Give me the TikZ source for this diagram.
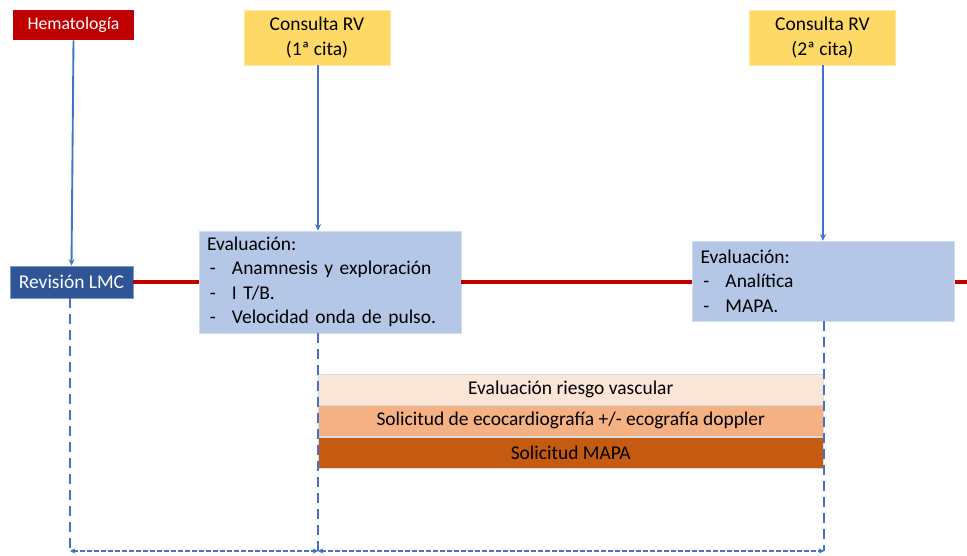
\documentclass[tikz,border=0pt]{standalone}
\usepackage{fontspec}
\setmainfont{Carlito}
\usetikzlibrary{arrows.meta,calc}
\definecolor{hemared}{HTML}{C00000}
\definecolor{rvyellow}{HTML}{FFD966}
\definecolor{lmcblue}{HTML}{2F5597}
\definecolor{evalblue}{HTML}{B4C7E7}
\definecolor{linkblue}{HTML}{4472C4}
\definecolor{riskA}{HTML}{FBE5D6}
\definecolor{riskB}{HTML}{F4B183}
\definecolor{riskC}{HTML}{C55A11}
\newcommand{\itm}{\makebox[18.75pt][l]{\hspace{2.2pt}-}} % dash of a list line

\begin{document}
\begin{tikzpicture}[x=0.75pt,y=-0.75pt,
  font=\fontsize{14.6}{18.4}\selectfont,
  tag/.style={inner sep=0pt,align=center},
  hemabox/.style={tag,fill=hemared,text=white,minimum width=90.75pt,minimum height=22.5pt,
    font=\fontsize{13.3}{16}\selectfont},
  citabox/.style={tag,fill=rvyellow,draw=rvyellow!60,minimum width=109.5pt,minimum height=41.25pt},
  lmcbox/.style={tag,fill=lmcblue,draw=lmcblue!60,text=white,minimum width=92.25pt,minimum height=24pt},
  evalbox/.style={fill=evalblue,draw=evalblue!60,align=left,inner xsep=6pt,inner ysep=0pt,
    text width=184.5pt},
  barbox/.style={tag,draw=white!85!black,minimum width=378.75pt,minimum height=23.25pt},
  link/.style={linkblue,line width=1.4pt,-{Stealth[length=5pt,width=4.5pt]}},
  span/.style={linkblue,line width=1.5pt,dash pattern=on 3.75pt off 1.5pt,
    {Stealth[length=4pt,width=4pt]}-{Stealth[length=4pt,width=4pt]}},
  guide/.style={linkblue,line width=1.5pt,dash pattern=on 7.5pt off 4.5pt}]

\useasboundingbox (0,0) rectangle (967,556);

\def\yb{551} % level of the bottom spans

% top row
\node[hemabox] (hema) at (73.5,25) {Hematología};
\node[citabox] (rv1) at (317,37.5) {Consulta RV\\(1ª cita)};
\node[citabox] (rv2) at (822.5,37.5) {Consulta RV\\(2ª cita)};

% time line
\node[lmcbox] (lmc) at (71.5,282) {Revisión LMC};
\node[evalbox,minimum height=76.5pt] (eval1) at (330,282)
  {Evaluación:\\\itm Anamnesis y exploración\\\itm I T/B.\\\itm Velocidad onda de pulso.};
\node[evalbox,minimum height=60pt] (eval2) at (823.5,281)
  {Evaluación:\\\itm Analítica\\\itm MAPA.};
\coordinate (tend) at (967,282);

\draw[hemared,line width=2.4pt] (lmc.east) -- (lmc.east -| eval1.west);
\draw[hemared,line width=2.4pt] (lmc.east -| eval1.east) -- (lmc.east -| eval2.west);
\draw[hemared,line width=2.4pt] (lmc.east -| eval2.east) -- (tend);

% arrows into the time line
\coordinate (a1) at (318,0);
\coordinate (a2) at (823,0);
\draw[link] (hema.south) -- (lmc.north);
\draw[link] (rv1.south -| a1) -- (eval1.north -| a1);
\draw[link] (rv2.south -| a2) -- (eval2.north -| a2);

% tasks between the two visits
\node[barbox,fill=riskA,anchor=north west] (risk) at (318,373.5) {Evaluación riesgo vascular};
\node[barbox,fill=riskB,anchor=north] (eco) at (risk.south) {Solicitud de ecocardiografía +/- ecografía doppler};
\node[barbox,fill=riskC,anchor=north] (mapa) at (eco.south) {Solicitud MAPA};

% bottom spans
\coordinate (b1) at (70,\yb);
\coordinate (b2) at (318,\yb);
\coordinate (b3) at (824,\yb);
\draw[guide] (lmc.south -| b1) -- (b1);
\draw[guide] (eval1.south -| b2) -- (b2);
\draw[guide] (eval2.south -| b3) -- (b3);
\draw[span] (b1) -- (b2);
\draw[span] (b2) -- (b3);

\end{tikzpicture}
\end{document}
